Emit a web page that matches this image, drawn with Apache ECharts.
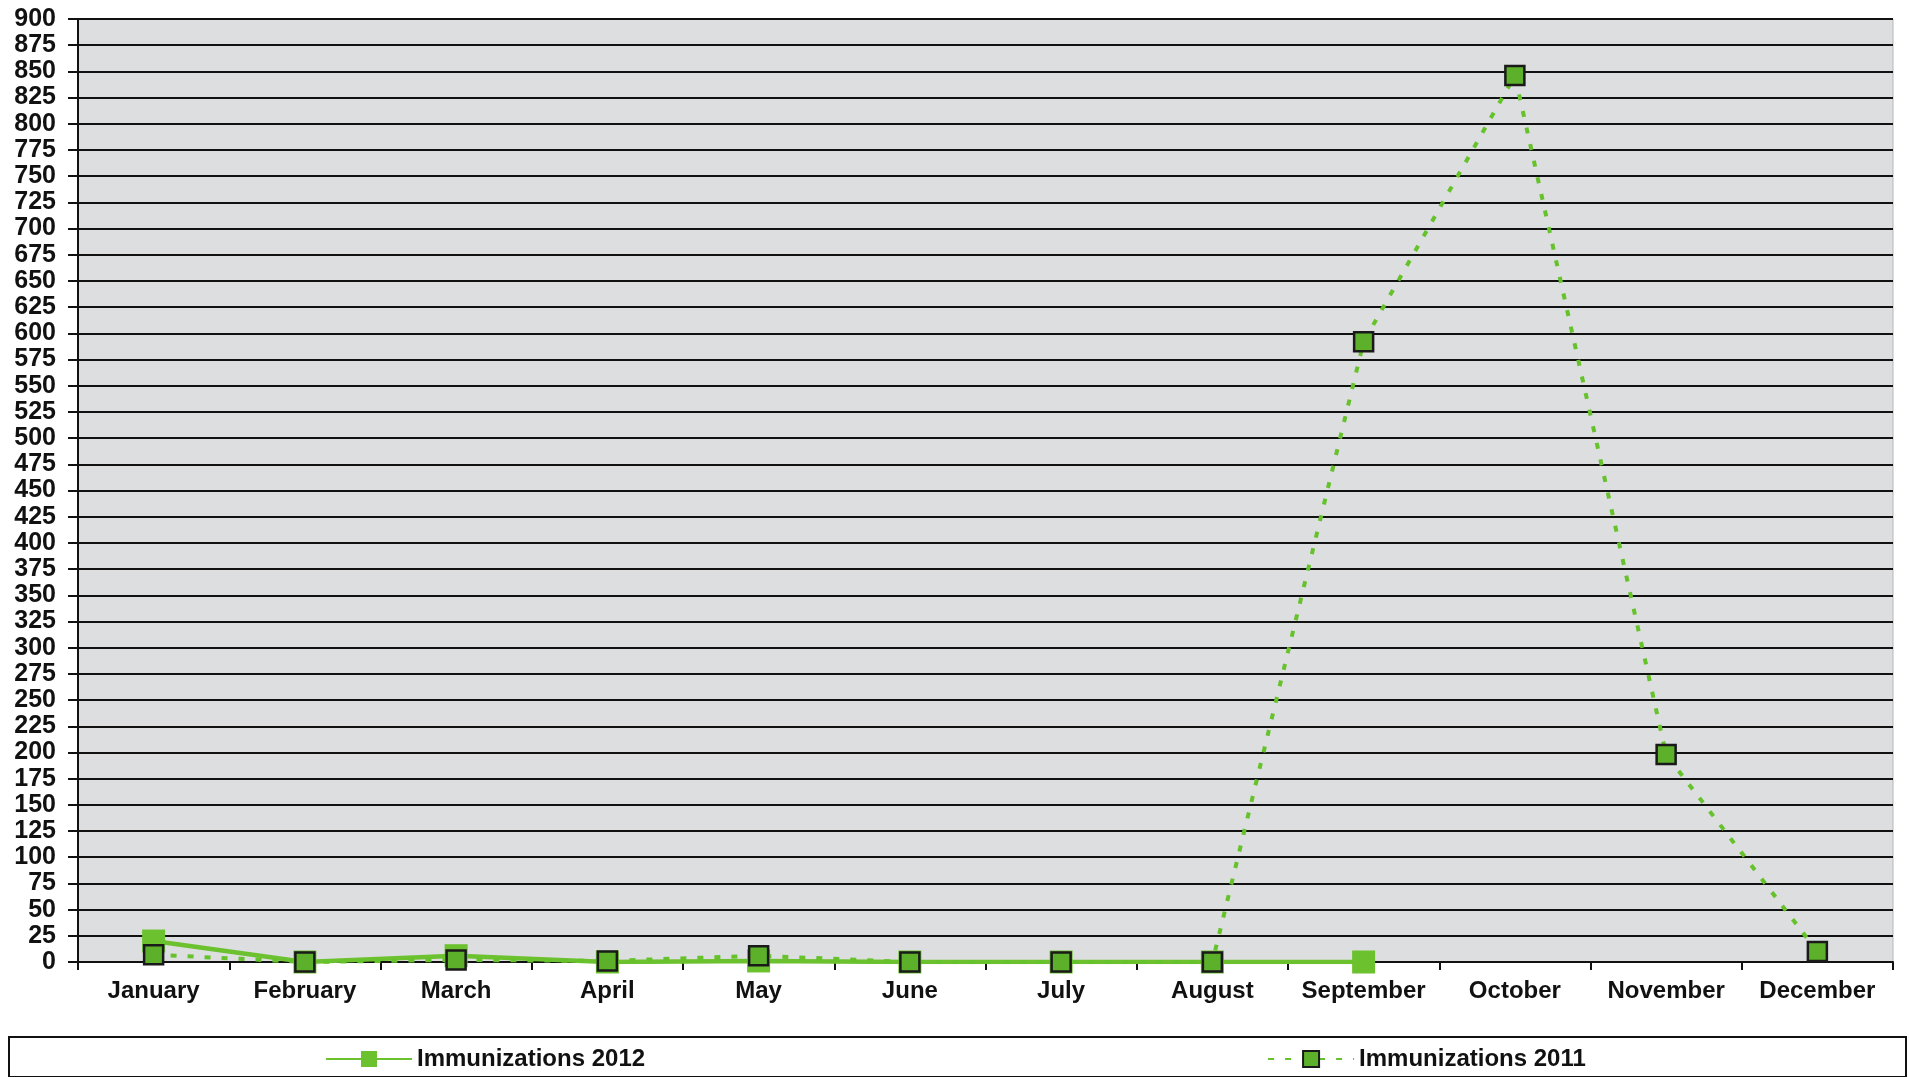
<!DOCTYPE html>
<html>
<head>
<meta charset="utf-8">
<script src="https://cdn.jsdelivr.net/npm/echarts@6/dist/echarts.min.js"></script>
<style>
html,body{margin:0;padding:0;background:#fff;}
#chart{width:1909px;height:1077px;}
</style>
</head>
<body>
<div id="chart"></div>
<script>
var months = ['January','February','March','April','May','June','July','August','September','October','November','December'];
var immunizations2012 = [20, 0, 6, 0, 1, 0, 0, 0, 0, null, null, null];
var immunizations2011 = [7, 0, 2, 1, 6, 0, 0, 0, 592, 846, 198, 10];
var yMin = 0, yMax = 900, yStep = 25;

var chart = echarts.init(document.getElementById('chart'));
var font = '"Liberation Sans", Arial, sans-serif';
chart.setOption({
  backgroundColor: '#ffffff',
  animation: false,
  textStyle: { fontFamily: font },
  graphic: [{
    type: 'rect',
    left: 8, top: 1036,
    shape: { width: 1897, height: 40 },
    style: { fill: '#ffffff', stroke: '#111', lineWidth: 2 },
    z: -1
  }],
  grid: {
    left: 78, right: 16, top: 19, bottom: 115,
    show: true, backgroundColor: '#dcdedf', borderColor: '#b8b8b8', borderWidth: 1
  },
  legend: {
    left: 320, top: 1042,
    itemGap: 622,
    itemWidth: 86, itemHeight: 20,
    textStyle: { fontSize: 24, fontWeight: 'bold', color: '#111', fontFamily: font },
    data: ['Immunizations 2012', 'Immunizations 2011']
  },
  xAxis: {
    type: 'category',
    data: months,
    boundaryGap: true,
    axisLine: { lineStyle: { color: '#111', width: 2 } },
    axisTick: { show: true, length: 8, interval: 0, lineStyle: { color: '#111', width: 2 } },
    axisLabel: { interval: 0, color: '#111', fontSize: 24, fontWeight: 'bold', margin: 17, fontFamily: font },
    splitLine: { show: false }
  },
  yAxis: {
    type: 'value',
    min: yMin, max: yMax, interval: yStep,
    axisLine: { show: true, lineStyle: { color: '#111', width: 2 } },
    axisTick: { show: true, length: 10, lineStyle: { color: '#111', width: 2 } },
    axisLabel: { color: '#111', fontSize: 25, fontWeight: 'bold', margin: 22, fontFamily: font },
    splitLine: { show: true, lineStyle: { color: '#111', width: 2 } }
  },
  series: [
    {
      name: 'Immunizations 2012',
      type: 'line',
      data: immunizations2012,
      symbol: 'rect',
      symbolSize: 23,
      itemStyle: { color: '#6cc12e', borderWidth: 0 },
      lineStyle: { color: '#6cc12e', width: 4.5, type: 'solid' },
      z: 2
    },
    {
      name: 'Immunizations 2011',
      type: 'line',
      data: immunizations2011,
      symbol: 'rect',
      symbolSize: 19,
      itemStyle: { color: '#5cb02a', borderColor: '#1a1a1a', borderWidth: 2.5 },
      lineStyle: { color: '#66c22a', width: 4, type: [6, 11] },
      z: 3
    }
  ]
});
</script>
</body>
</html>
